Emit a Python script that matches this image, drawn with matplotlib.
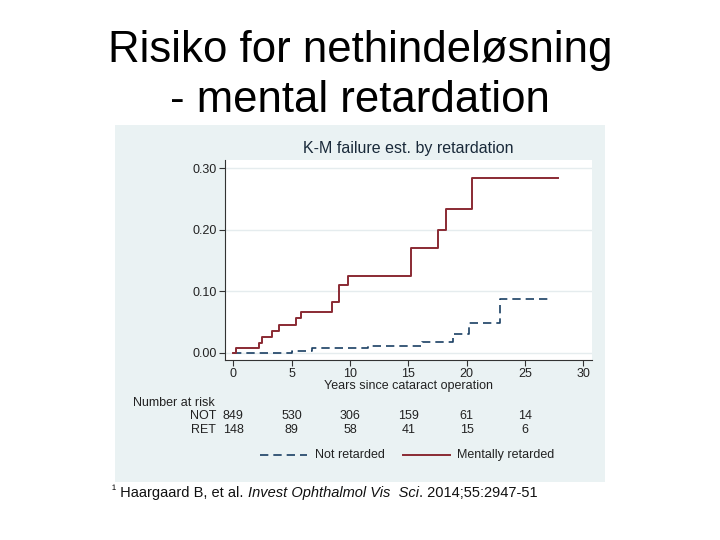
import matplotlib
matplotlib.use("Agg")
import matplotlib.pyplot as plt
from matplotlib.patches import Rectangle
from matplotlib.lines import Line2D

plt.rcParams['font.family'] = ['Liberation Sans', 'DejaVu Sans']

# K-M failure estimates (step after each time)
ret_years = [0, 0.2, 2.23, 2.43, 3.29, 3.94, 5.34, 5.77, 8.43, 9.09, 9.86, 15.2, 17.57, 18.23, 20.43, 27.86]
ret_fail = [0, 0.008, 0.015, 0.025, 0.035, 0.0445, 0.056, 0.067, 0.082, 0.110, 0.125, 0.170, 0.200, 0.233, 0.285, 0.285]
not_years = [0, 5.0, 6.71, 11.57, 16.14, 18.8, 20.23, 22.86, 27.0]
not_fail = [0, 0.002, 0.007, 0.011, 0.018, 0.031, 0.049, 0.087, 0.087]

risk_times = [0, 5, 10, 15, 20, 25]
risk_not = [849, 530, 306, 159, 61, 14]
risk_ret = [148, 89, 58, 41, 15, 6]

x_ticks = [0, 5, 10, 15, 20, 25, 30]
y_ticks = [0.0, 0.1, 0.2, 0.3]

red = '#8A2A33'
navy = '#1A3F63'
panel = '#EAF2F3'

fig = plt.figure(figsize=(7.2, 5.4), dpi=100)
fig.patch.set_facecolor('white')

# slide title
fig.text(0.5, 0.885, 'Risiko for nethindeløsning', ha='center', va='baseline', fontsize=31.5)
fig.text(0.5, 0.793, '- mental retardation', ha='center', va='baseline', fontsize=31.5)

# Stata-like graph panel
fig.patches.append(Rectangle((115 / 720, 1 - 482 / 540), 490 / 720, 357 / 540,
                             transform=fig.transFigure, facecolor=panel, edgecolor='none', zorder=-1))

ax = fig.add_axes([225 / 720, 1 - 360 / 540, 367 / 720, 200 / 540])
ax.set_facecolor('white')
ax.step(not_years, not_fail, where='post', color=navy, lw=1.2, dashes=(5, 3))
ax.step(ret_years, ret_fail, where='post', color=red, lw=1.4)

ax.set_xlim(-0.71, 30.74)
ax.set_ylim(-0.0119, 0.3135)
ax.set_xticks(x_ticks)
ax.set_yticks(y_ticks)
ax.set_yticklabels(['%.2f' % v for v in y_ticks])
ax.tick_params(labelsize=9, length=4, width=0.8, color='#333333', labelcolor='#222222', pad=2)
for s in ['top', 'right']:
    ax.spines[s].set_visible(False)
for s in ['left', 'bottom']:
    ax.spines[s].set_color('#333333')
    ax.spines[s].set_linewidth(0.8)
ax.grid(axis='y', color='#E5ECEE', lw=1.0)
ax.set_axisbelow(True)
ax.set_xlabel('Years since cataract operation', fontsize=9, labelpad=0, color='#222222')
ax.set_title('K-M failure est. by retardation', fontsize=11.5, color='#1a2a3a', pad=5)

# number at risk table
tr = ax.get_xaxis_transform()
fig.text(133 / 720, 1 - 403 / 540, 'Number at risk', fontsize=9, va='center', color='#222222')
fig.text(216 / 720, 1 - 416 / 540, 'NOT', fontsize=9, va='center', ha='right', color='#222222')
fig.text(216 / 720, 1 - 430 / 540, 'RET', fontsize=9, va='center', ha='right', color='#222222')
y_not = (1 - 416 / 540 - (1 - 360 / 540)) / (200 / 540)
y_ret = (1 - 430 / 540 - (1 - 360 / 540)) / (200 / 540)
for t, a, b in zip(risk_times, risk_not, risk_ret):
    ax.text(t, y_not, str(a), transform=tr, ha='center', va='center', fontsize=9, color='#222222', clip_on=False)
    ax.text(t, y_ret, str(b), transform=tr, ha='center', va='center', fontsize=9, color='#222222', clip_on=False)

# legend
ly = 1 - 455 / 540
fig.lines.append(Line2D([260 / 720, 307 / 720], [ly, ly], transform=fig.transFigure,
                        color=navy, lw=1.2, dashes=(5, 3)))
fig.text(315 / 720, ly, 'Not retarded', fontsize=9, va='center', color='#222222')
fig.lines.append(Line2D([403 / 720, 450 / 720], [ly, ly], transform=fig.transFigure,
                        color=red, lw=1.4))
fig.text(457 / 720, ly, 'Mentally retarded', fontsize=9, va='center', color='#222222')

# footnote with italic journal name
renderer = fig.canvas.get_renderer()
fy = 1 - 497 / 540
x = 112 / 720
pieces = [('¹', 'normal', 9), (' Haargaard B, et al. ', 'normal', 10.5),
          ('Invest Ophthalmol Vis  Sci', 'italic', 10.5), ('. 2014;55:2947-51', 'normal', 10.5)]
for txt, style, size in pieces:
    yy = fy + (0.006 if txt == '¹' else 0)
    t = fig.text(x, yy, txt, fontsize=size, style=style, va='baseline', color='#111111')
    bb = t.get_window_extent(renderer=renderer)
    x += bb.width / fig.bbox.width

fig.savefig('out.png', dpi=100)
